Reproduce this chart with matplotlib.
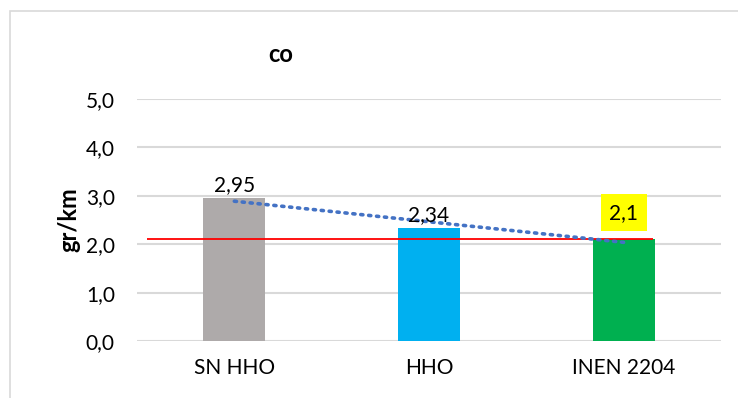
import numpy as np
import matplotlib.pyplot as plt
from matplotlib.patches import Rectangle

categories = ['SN HHO', 'HHO', 'INEN 2204']
values = [2.95, 2.34, 2.1]
bar_colors = ['#AEAAAA', '#00B0F0', '#00B050']
limit_value = 2.1
y_ticks = [0, 1, 2, 3, 4, 5]

plt.rcParams['font.family'] = ['Lato', 'DejaVu Sans']

fig = plt.figure(figsize=(7.38, 3.98), dpi=100)
fig.patches.append(Rectangle((10 / 738, -0.1), 1.1, 1 - 11 / 398 + 0.1,
                             transform=fig.transFigure, fill=False,
                             edgecolor='#D9D9D9', linewidth=1.2))

ax = fig.add_axes([137 / 738, 57 / 398, 584 / 738, 242 / 398])
x = np.arange(len(categories))
bars = ax.bar(x, values, width=0.32, color=bar_colors, zorder=2)

# Excel style linear trendline
slope, intercept = np.polyfit(x, values, 1)
ax.plot(x, slope * x + intercept, linestyle=(0, (0.6, 1.6)), color='#4472C4',
        linewidth=2.6, dash_capstyle='round', zorder=4)

# norm limit
ax.hlines(limit_value, -0.45, 2.15, color='#FF0000', linewidth=1.3, zorder=3)

for i, v in enumerate(values):
    label = f'{v:.2f}'.rstrip('0').replace('.', ',')
    if i == len(values) - 1:
        ax.annotate(label, (i, v), xytext=(0, 12), textcoords='offset points',
                    ha='center', va='bottom', fontsize=15,
                    bbox=dict(boxstyle='square,pad=0.4', facecolor='#FFFF00',
                              edgecolor='none'), zorder=5)
    else:
        ax.annotate(label, (i, v), xytext=(0, 2), textcoords='offset points',
                    ha='center', va='bottom', fontsize=15, zorder=5)

ax.set_xlim(-0.5, 2.5)
ax.set_ylim(0, 5)
ax.set_yticks(y_ticks)
ax.set_yticklabels([f'{t:.1f}'.replace('.', ',') for t in y_ticks], fontsize=15)
ax.set_xticks(x)
ax.set_xticklabels(categories, fontsize=15)
ax.tick_params(length=0)
ax.tick_params(axis='y', pad=16)
ax.tick_params(axis='x', pad=12)
ax.grid(axis='y', color='#D9D9D9', linewidth=1.5, zorder=0)
ax.set_axisbelow(True)
for s in ax.spines.values():
    s.set_visible(False)

ax.set_ylabel('gr/km', fontsize=17, fontweight='bold', labelpad=4)
fig.text(281 / 738, 1 - 55 / 398, 'co', fontsize=17, fontweight='bold',
         ha='center', va='center')

fig.savefig('out.png', dpi=100)
